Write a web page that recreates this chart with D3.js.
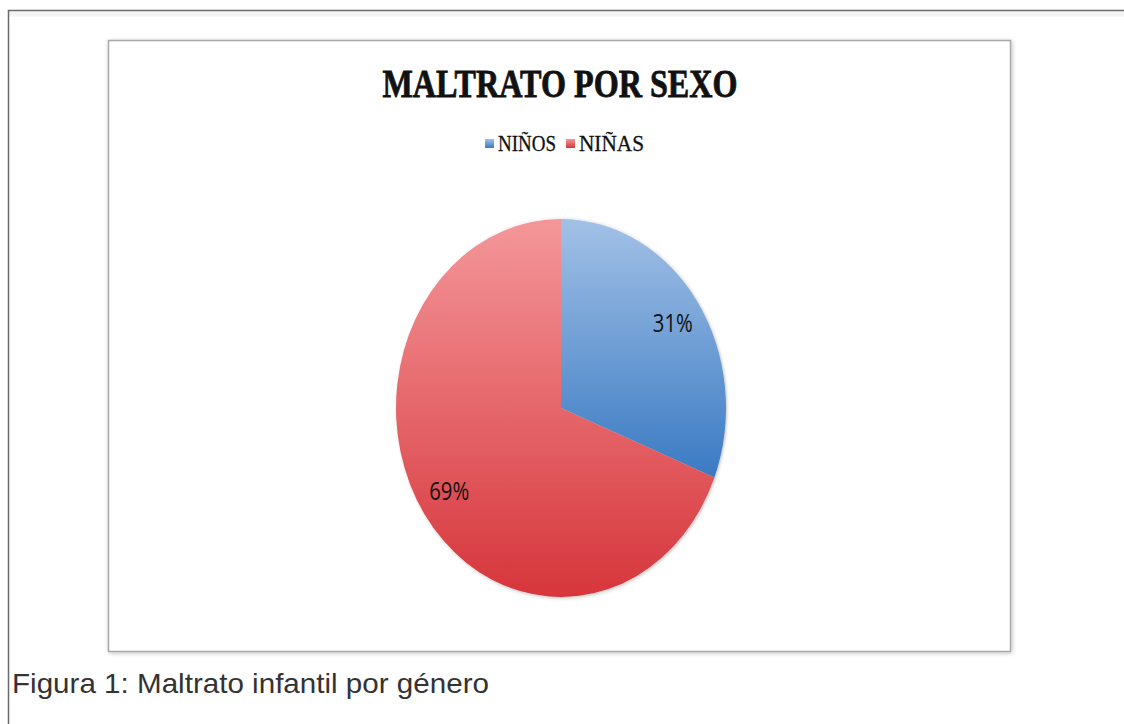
<!DOCTYPE html>
<html>
<head>
<meta charset="utf-8">
<script src="https://cdn.jsdelivr.net/npm/d3@7"></script>
<style>
  body { margin: 0; background: #fff; }
  svg { display: block; }
</style>
</head>
<body>
<div id="chart"></div>
<script>
var categories = ["NIÑOS", "NIÑAS"];
var values = [31, 69];
var pctLabels = ["31%", "69%"];

var svgWidth = 1124;
var svgHeight = 724;

var svg = d3.select("#chart")
  .append("svg")
  .attr("width", svgWidth)
  .attr("height", svgHeight);

var defs = svg.append("defs");

// gradients per slice, light top -> dark bottom
var grads = [
  { id: "gBlue", top: "#a2c1e6", bottom: "#3a7ac3" },
  { id: "gRed", top: "#f4979a", bottom: "#d6363b" }
];
grads.forEach(function(g) {
  var lg = defs.append("linearGradient")
    .attr("id", g.id)
    .attr("x1", 0).attr("y1", 0).attr("x2", 0).attr("y2", 1);
  lg.append("stop").attr("offset", "0%").attr("stop-color", g.top);
  lg.append("stop").attr("offset", "100%").attr("stop-color", g.bottom);
});

var shadow = defs.append("filter").attr("id", "shadow")
  .attr("x", "-5%").attr("y", "-5%").attr("width", "110%").attr("height", "110%");
shadow.append("feGaussianBlur").attr("in", "SourceAlpha").attr("stdDeviation", 2);
shadow.append("feOffset").attr("dx", 1).attr("dy", 1).attr("result", "b");
shadow.append("feComponentTransfer").append("feFuncA").attr("type", "linear").attr("slope", 0.25);
var merge = shadow.append("feMerge");
merge.append("feMergeNode");
merge.append("feMergeNode").attr("in", "SourceGraphic");

// outer frame
svg.append("rect")
  .attr("x", 9).attr("y", 11.5)
  .attr("width", svgWidth).attr("height", 5)
  .attr("fill", "#f4f4f4");
svg.append("path")
  .attr("d", "M8.5," + (svgHeight + 2) + " V10.5 H" + (svgWidth + 2))
  .attr("fill", "none")
  .attr("stroke", "#6a6a6a")
  .attr("stroke-width", 1.5);

// inner chart box
svg.append("rect")
  .attr("x", 108.5).attr("y", 40.5)
  .attr("width", 902).attr("height", 611)
  .attr("fill", "#fff")
  .attr("stroke", "#a8a8a8")
  .attr("stroke-width", 1.5)
  .attr("filter", "url(#shadow)");

// title
svg.append("text")
  .attr("x", 560).attr("y", 97)
  .attr("text-anchor", "middle")
  .attr("font-family", "'Liberation Serif', 'DejaVu Serif', serif")
  .attr("font-weight", "bold")
  .attr("font-size", 40)
  .attr("textLength", 355)
  .attr("lengthAdjust", "spacingAndGlyphs")
  .attr("fill", "#111")
  .attr("stroke", "#111")
  .attr("stroke-width", 0.8)
  .text("MALTRATO POR SEXO");

// legend
var legendX = [485, 566];
var legendW = [58, 65];
var legend = svg.selectAll(".legend")
  .data(categories)
  .enter()
  .append("g")
  .attr("class", "legend")
  .attr("transform", (d, i) => `translate(${legendX[i]},139)`);
legend.append("rect")
  .attr("width", 9).attr("height", 9)
  .attr("fill", (d, i) => "url(#" + grads[i].id + ")");
legend.append("text")
  .attr("x", 13).attr("y", 12)
  .attr("font-family", "'Liberation Serif', 'DejaVu Serif', serif")
  .attr("font-size", 23)
  .attr("textLength", (d, i) => legendW[i])
  .attr("lengthAdjust", "spacingAndGlyphs")
  .attr("fill", "#111")
  .attr("stroke", "#111")
  .attr("stroke-width", 0.3)
  .text(d => d);

// pie (ellipse: draw circle, squash horizontally)
var cx = 561, cy = 408;
var ry = 189, rx = 165;
var sx = rx / ry;

var pie = d3.pie().sort(null).value(d => d);
var arcs = pie(values);
var arc = d3.arc().innerRadius(0).outerRadius(ry);
var labelArc = d3.arc().innerRadius(ry * 0.79).outerRadius(ry * 0.79);

var pieGroup = svg.append("g")
  .attr("transform", `translate(${cx},${cy}) scale(${sx},1)`)
  .attr("filter", "url(#shadow)");

pieGroup.selectAll("path")
  .data(arcs)
  .enter()
  .append("path")
  .attr("d", arc)
  .attr("fill", (d, i) => "url(#" + grads[i].id + ")");

svg.selectAll(".pct")
  .data(arcs)
  .enter()
  .append("text")
  .attr("class", "pct")
  .attr("x", d => cx + labelArc.centroid(d)[0] * sx + (d.index ? -4 : 4))
  .attr("y", d => cy + labelArc.centroid(d)[1] + 8)
  .attr("text-anchor", "middle")
  .attr("font-family", "'Liberation Sans Narrow', 'Open Sans', sans-serif")
  .attr("font-size", 25)
  .attr("textLength", 40)
  .attr("lengthAdjust", "spacingAndGlyphs")
  .attr("fill", "#111")
  .text((d, i) => pctLabels[i]);

// caption
svg.append("text")
  .attr("x", 12).attr("y", 693)
  .attr("font-family", "'Liberation Sans', Arial, sans-serif")
  .attr("font-size", 28)
  .attr("textLength", 477)
  .attr("lengthAdjust", "spacingAndGlyphs")
  .attr("fill", "#333")
  .text("Figura 1: Maltrato infantil por género");
</script>
</body>
</html>
